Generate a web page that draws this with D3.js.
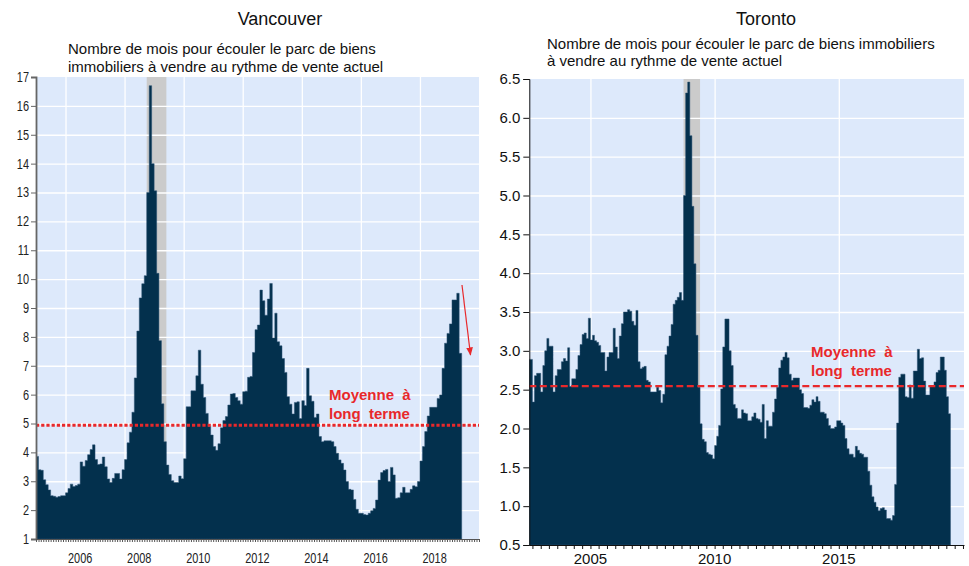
<!DOCTYPE html>
<html><head><meta charset="utf-8">
<script src="https://cdn.jsdelivr.net/npm/d3@7"></script>
<style>body{margin:0;background:#fff} svg{display:block}</style>
</head><body>
<svg id="c" width="969" height="566"></svg>
<script>
// ---------------- DATA ----------------
const vanFirstMonth = "2005-01";
const vanValues = [3.86,3.4,3.38,3.05,2.88,2.7,2.5,2.48,2.45,2.47,2.5,2.5,
 2.6,2.75,2.9,2.82,2.85,2.9,3.67,3.52,3.72,3.92,4.1,4.26,
 3.75,3.58,3.6,3.84,3.5,3.08,2.96,3.1,3.27,3.27,3.08,3.4,
 3.75,4.33,4.7,5.39,6.58,8.2,9.35,9.84,10.12,13.0,16.7,14.0,
 13.06,10.2,7.87,5.68,4.37,3.56,3.23,3.02,2.96,2.96,3.18,3.09,
 3.78,5.58,5.58,6.13,6.13,6.65,7.54,6.36,5.9,5.35,4.9,4.6,
 4.2,4.07,4.3,4.85,5.1,5.24,5.64,6.02,6.04,5.9,5.79,5.67,
 6.1,6.12,6.6,6.63,7.46,8.25,8.41,9.62,9.25,8.75,9.31,9.85,
 7.96,8.82,7.83,7.69,7.25,6.77,5.93,5.67,5.33,5.73,5.75,5.17,
 5.79,5.62,6.91,5.96,5.77,5.21,5.33,4.55,4.37,4.4,4.4,4.4,
 4.37,4.2,3.97,3.74,3.62,3.39,2.99,2.72,2.7,2.37,2.03,1.89,
 1.89,1.85,1.83,1.89,1.98,2.06,2.35,3.04,3.3,3.37,3.41,2.99,
 3.48,3.22,2.41,2.43,2.6,2.79,2.6,2.6,2.72,2.84,2.81,2.99,
 3.7,4.2,4.72,5.26,5.56,5.56,5.56,5.87,5.99,6.91,7.78,8.12,
 8.45,9.28,9.28,9.51,7.43];
const torFirstMonth = "2002-07";
const torValues = [2.89,2.89,2.34,2.68,2.71,2.71,
 2.47,2.81,3.0,3.16,3.06,3.06,2.47,2.68,2.76,2.76,2.86,2.9,
 2.87,3.04,2.54,2.64,2.64,2.76,2.94,3.08,3.21,3.23,3.16,3.42,
 3.14,3.2,3.13,3.11,3.07,2.98,2.98,2.74,2.92,2.98,2.98,3.29,
 3.05,2.9,3.19,3.35,3.5,3.5,3.53,3.51,3.38,3.33,3.52,2.86,
 2.77,2.79,2.8,2.62,2.6,2.47,2.47,2.47,2.53,2.49,2.33,2.44,
 2.95,3.06,3.19,3.34,3.6,3.65,3.69,3.75,3.65,5.0,6.32,6.46,
 5.77,4.86,4.12,3.2,2.53,2.06,1.86,1.83,1.69,1.67,1.66,1.61,
 1.78,1.9,2.04,2.51,3.05,3.41,3.41,3.0,2.81,2.31,2.26,2.13,
 2.13,2.24,2.2,2.19,2.1,2.1,2.15,2.2,2.13,2.12,2.08,2.31,
 1.87,2.1,2.03,2.03,2.21,2.38,2.53,2.78,2.88,2.92,2.98,2.91,
 2.7,2.62,2.65,2.65,2.65,2.5,2.45,2.27,2.27,2.26,2.3,2.37,
 2.34,2.41,2.35,2.21,2.21,2.19,2.13,2.04,2.0,2.0,2.02,2.1,
 2.1,2.07,2.04,1.87,1.74,1.67,1.67,1.63,1.77,1.72,1.68,1.67,
 1.63,1.63,1.45,1.27,1.12,1.05,0.99,0.94,0.97,0.98,0.95,0.84,
 0.84,0.82,0.88,1.28,2.07,2.66,2.7,2.7,2.41,2.4,2.56,2.39,
 2.74,2.74,3.02,2.9,2.91,2.61,2.43,2.43,2.54,2.54,2.6,2.72,
 2.75,2.92,2.92,2.75,2.41,2.19];
const vanAverage = 4.94;
const torAverage = 2.545;
const recessionMonths = ["2008-10", "2009-06"];
const vanYTicks = [1,2,3,4,5,6,7,8,9,10,11,12,13,14,15,16,17];
const vanYearLabels = [2006,2008,2010,2012,2014,2016,2018];
const torYTicks = [0.5,1.0,1.5,2.0,2.5,3.0,3.5,4.0,4.5,5.0,5.5,6.0,6.5];
const torYearLabels = [2005,2010,2015];
const titles = ["Vancouver","Toronto"];
const vanSubtitle = ["Nombre de mois pour écouler le parc de biens","immobiliers à vendre au rythme de vente actuel"];
const torSubtitle = ["Nombre de mois pour écouler le parc de biens immobiliers","à vendre au rythme de vente actuel"];
const avgLabel = ["Moyenne  à","long  terme"];

// ---------------- STYLE ----------------
const BG = "#dde9fb", BAR = "#03304d", RED = "#e8282b", SHADE = "#cbcbcb";
const FONT = "'Liberation Sans', Arial, Helvetica, sans-serif";

const svg = d3.select("#c");
const pm = d3.timeParse("%Y-%m");

// compress text horizontally (narrow font look)
function narrow(sel, ratio){
  sel.each(function(){
    const w = this.getComputedTextLength();
    if (w > 0) d3.select(this).attr("textLength", w*ratio).attr("lengthAdjust","spacingAndGlyphs");
  });
}

function drawPanel(o){
  const g = svg.append("g");
  const [x0,x1] = o.x.range(), [yb,yt] = o.y.range();
  const id = "clip" + o.key;
  svg.append("clipPath").attr("id", id).append("rect")
    .attr("x", x0).attr("y", yt).attr("width", x1-x0).attr("height", yb-yt);
  g.append("rect").attr("x",x0).attr("y",yt).attr("width",x1-x0).attr("height",yb-yt).attr("fill",BG);
  const r0 = pm(recessionMonths[0]), r1 = pm(recessionMonths[1]);
  g.append("rect").attr("x",o.x(r0)).attr("y",yt).attr("width",o.x(r1)-o.x(r0)).attr("height",yb-yt).attr("fill",SHADE);
  const gy = g.append("g").attr("transform",`translate(${x0},0)`)
    .call(d3.axisLeft(o.y).tickValues(o.yTicks.slice(1,-1)).tickSize(-(x1-x0)).tickFormat(""));
  gy.select(".domain").remove();
  gy.selectAll("line").attr("stroke","#fff").attr("stroke-width",1.3);
  const gx = g.append("g").attr("transform",`translate(0,${yb})`)
    .call(d3.axisBottom(o.x).tickValues(o.gridYears.map(yr=>new Date(yr,0,1))).tickSize(-(yb-yt)).tickFormat(""));
  gx.select(".domain").remove();
  gx.selectAll("line").attr("stroke","#fff").attr("stroke-width",1.3);
  // bars as a stepped area (contiguous monthly columns)
  const start = pm(o.first);
  const data = o.values.map((v,i)=>({d:d3.timeMonth.offset(start,i), v}));
  data.push({d:d3.timeMonth.offset(start,o.values.length), v:o.values[o.values.length-1]});
  const area = d3.area().curve(d3.curveStepAfter)
    .x(d=>o.x(d.d)).y0(yb).y1(d=>o.y(d.v));
  g.append("path").attr("clip-path",`url(#${id})`).datum(data).attr("d",area)
    .attr("fill",BAR).attr("stroke","#2c5374").attr("stroke-width",0.5);
  g.append("line").attr("x1",x0).attr("x2",x1).attr("y1",o.y(o.avg)).attr("y2",o.y(o.avg))
    .attr("stroke",RED).attr("stroke-width",o.avgWidth).attr("stroke-dasharray",o.avgDash);
  return g;
}

// ---------------- VANCOUVER ----------------
const xV = d3.scaleTime().domain([new Date(2005,0,1), new Date(2020,0,1)]).range([36, 479]);
const yV = d3.scaleLinear().domain([1,17]).range([539, 77]);
drawPanel({key:"V", x:xV, y:yV, yTicks:vanYTicks, gridYears:vanYearLabels, first:vanFirstMonth,
  values:vanValues, avg:vanAverage, avgWidth:3, avgDash:"3.2,2"});
const axV = svg.append("g").attr("transform","translate(36,0)")
  .call(d3.axisLeft(yV).tickValues(vanYTicks).tickSize(5).tickPadding(2).tickFormat(d3.format("d")));
axV.select(".domain").attr("stroke","#666").attr("stroke-width",1.8);
axV.selectAll("line").attr("stroke","#666");
axV.selectAll("text").attr("font-family",FONT).attr("font-size",14).attr("fill","#222").call(narrow,0.78);
const axVx = svg.append("g").attr("transform","translate(0,539)")
  .call(d3.axisBottom(xV).ticks(d3.timeMonth.every(1)).tickSize(3).tickFormat("").tickSizeOuter(0));
axVx.select(".domain").attr("stroke","#555");
axVx.selectAll("line").attr("stroke","#555");
svg.append("g").selectAll("text").data(vanYearLabels).join("text")
  .attr("x", yr=>xV(new Date(yr,6,1))).attr("y",563).attr("text-anchor","middle")
  .attr("font-family",FONT).attr("font-size",14).attr("fill","#222").text(d=>d).call(narrow,0.78);
svg.append("text").attr("x",280).attr("y",25).attr("text-anchor","middle")
  .attr("font-family",FONT).attr("font-size",18).attr("fill","#111").text(titles[0]);
svg.append("g").selectAll("text").data(vanSubtitle).join("text")
  .attr("x",68).attr("y",(d,i)=>54+i*18).attr("font-family",FONT).attr("font-size",15).attr("fill","#111").text(d=>d);
svg.append("g").selectAll("text").data(avgLabel).join("text")
  .attr("x",329).attr("y",(d,i)=>400+i*19).attr("font-family",FONT).attr("font-weight","bold")
  .attr("font-size",15).attr("fill",RED).style("white-space","pre").text(d=>d);
svg.append("defs").append("marker").attr("id","ah").attr("viewBox","0 0 10 10").attr("refX",9).attr("refY",5)
  .attr("markerWidth",7).attr("markerHeight",7).attr("orient","auto")
  .append("path").attr("d","M0,1 L10,5 L0,9 Z").attr("fill",RED);
svg.append("line").attr("x1",462).attr("y1",285).attr("x2",470.5).attr("y2",355)
  .attr("stroke",RED).attr("stroke-width",1.2).attr("marker-end","url(#ah)");

// ---------------- TORONTO ----------------
const xT = d3.scaleTime().domain([new Date(2002,6,17), new Date(2020,0,16)]).range([529.3, 964]);
const yT = d3.scaleLinear().domain([0.5,6.5]).range([545, 79]);
drawPanel({key:"T", x:xT, y:yT, yTicks:torYTicks, gridYears:torYearLabels, first:torFirstMonth,
  values:torValues, avg:torAverage, avgWidth:2.2, avgDash:"7,3.5"});
const axT = svg.append("g").attr("transform","translate(529.3,0)")
  .call(d3.axisLeft(yT).tickValues(torYTicks).tickSize(6).tickPadding(3).tickFormat(d3.format(".1f")));
axT.select(".domain").attr("stroke","#111");
axT.selectAll("line").attr("stroke","#111");
axT.selectAll("text").attr("font-family",FONT).attr("font-size",15).attr("fill","#111");
const axTx = svg.append("g").attr("transform","translate(0,545)")
  .call(d3.axisBottom(xT).ticks(d3.timeMonth.every(4)).tickSize(4).tickFormat("").tickSizeOuter(0));
axTx.select(".domain").attr("stroke","#111");
axTx.selectAll("line").attr("stroke","#111");
svg.append("g").selectAll("text").data(torYearLabels).join("text")
  .attr("x", yr=>xT(new Date(yr,0,1))).attr("y",564).attr("text-anchor","middle")
  .attr("font-family",FONT).attr("font-size",15).attr("fill","#111").text(d=>d);
svg.append("text").attr("x",766).attr("y",25).attr("text-anchor","middle")
  .attr("font-family",FONT).attr("font-size",18).attr("fill","#111").text(titles[1]);
svg.append("g").selectAll("text").data(torSubtitle).join("text")
  .attr("x",547).attr("y",(d,i)=>49+i*17).attr("font-family",FONT).attr("font-size",15).attr("fill","#111").text(d=>d);
svg.append("g").selectAll("text").data(avgLabel).join("text")
  .attr("x",811).attr("y",(d,i)=>357+i*19).attr("font-family",FONT).attr("font-weight","bold")
  .attr("font-size",15).attr("fill",RED).style("white-space","pre").text(d=>d);
</script>
</body></html>
